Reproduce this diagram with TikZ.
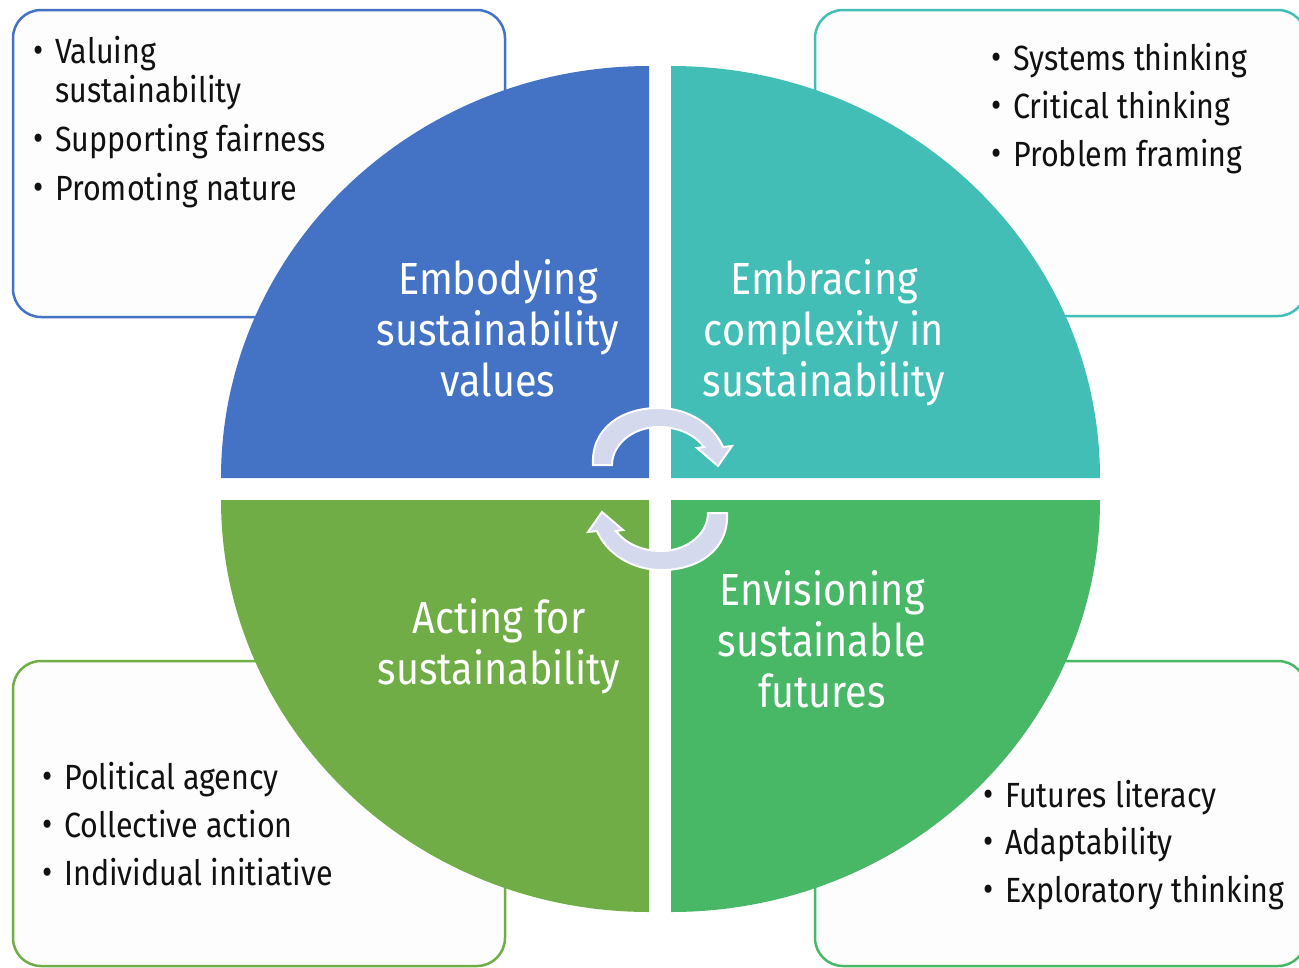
\documentclass[tikz,border=0pt]{standalone}
\usepackage{fontspec}
\setmainfont{Fira Sans}[FakeStretch=0.88]
\newfontfamily\listfont{Fira Sans}[FakeStretch=0.87]
\definecolor{cblue}{HTML}{4472C4}
\definecolor{cteal}{HTML}{43BEB6}
\definecolor{cgreenA}{HTML}{70AD47}
\definecolor{cgreenB}{HTML}{48B766}
\definecolor{carrow}{HTML}{D5D9EE}
\definecolor{boxfill}{HTML}{FDFDFD}
\definecolor{txt}{HTML}{111111}
\newcommand\bul{\llap{\raisebox{1pt}{\fontsize{36}{36}\selectfont\textbullet}\hspace{12pt}}}
\tikzset{
  infobox/.style={line width=2.5pt, fill=boxfill, rounded corners=28pt},
  bigtext/.style={text=white, font=\fontsize{45}{51}\selectfont, align=center, inner sep=0pt, anchor=base},
  listtext/.style={text=txt, font=\listfont\fontsize{35}{39}\selectfont, align=left, inner sep=0pt, anchor=base west},
  arrowstyle/.style={draw=white, line width=2pt, fill=carrow, line join=miter},
  cyc/.pic={
    \draw[arrowstyle] (593,465) .. controls (591,428) and (622,408) .. (658,408)
      .. controls (690,408) and (714,426) .. (723,447)
      -- (732,446) -- (718,466) -- (697,448) -- (704,447)
      .. controls (696,436) and (680,427) .. (659,427)
      .. controls (632,427) and (612,445) .. (612,465) -- cycle;
  }
}
\begin{document}
\begin{tikzpicture}[x=1pt,y=-1pt]
\useasboundingbox (0,0) rectangle (1299,967);
\clip (0,0) rectangle (1299,967);
% corner boxes
\draw[infobox, draw=cblue] (13,10) rectangle (505,317);
\draw[infobox, draw=cteal] (815,10) rectangle (1306,316);
\draw[infobox, draw=cgreenA] (13,661) rectangle (505,966);
\draw[infobox, draw=cgreenB] (815,661) rectangle (1306,966);
% quadrants
\fill[cblue] (649,478) -- (221,478) arc[start angle=180, end angle=270, x radius=428, y radius=412] -- cycle;
\fill[cteal] (671,478) -- (671,66) arc[start angle=270, end angle=360, x radius=429, y radius=412] -- cycle;
\fill[cgreenA] (649,500) -- (221,500) arc[start angle=180, end angle=90, x radius=428, y radius=412] -- cycle;
\fill[cgreenB] (671,500) -- (1100,500) arc[start angle=0, end angle=90, x radius=429, y radius=412] -- cycle;
% cycle arrows
\pic {cyc};
\pic[rotate=180] at (1320,978) {cyc};
% quadrant titles (anchor = baseline of last line)
\node[bigtext] (embody) at (498,396) {Embodying\\sustainability\\values};
\node[bigtext] (embrace) at (824,396) {Embracing\\complexity in\\sustainability};
\node[bigtext] (act) at (499,684) {Acting for\\sustainability};
\node[bigtext] (envision) at (822,707) {Envisioning\\sustainable\\futures};
% lists (anchor = baseline of last line)
\node[listtext] (listTL) at (55,200) {\bul Valuing\\sustainability\\[10pt]\bul Supporting fairness\\[10pt]\bul Promoting nature};
\node[listtext] (listTR) at (1013,166) {\bul Systems thinking\\[9pt]\bul Critical thinking\\[9pt]\bul Problem framing};
\node[listtext] (listBL) at (64,885) {\bul Political agency\\[9pt]\bul Collective action\\[9pt]\bul Individual initiative};
\node[listtext] (listBR) at (1005,902) {\bul Futures literacy\\[8.5pt]\bul Adaptability\\[8.5pt]\bul Exploratory thinking};
\end{tikzpicture}
\end{document}
